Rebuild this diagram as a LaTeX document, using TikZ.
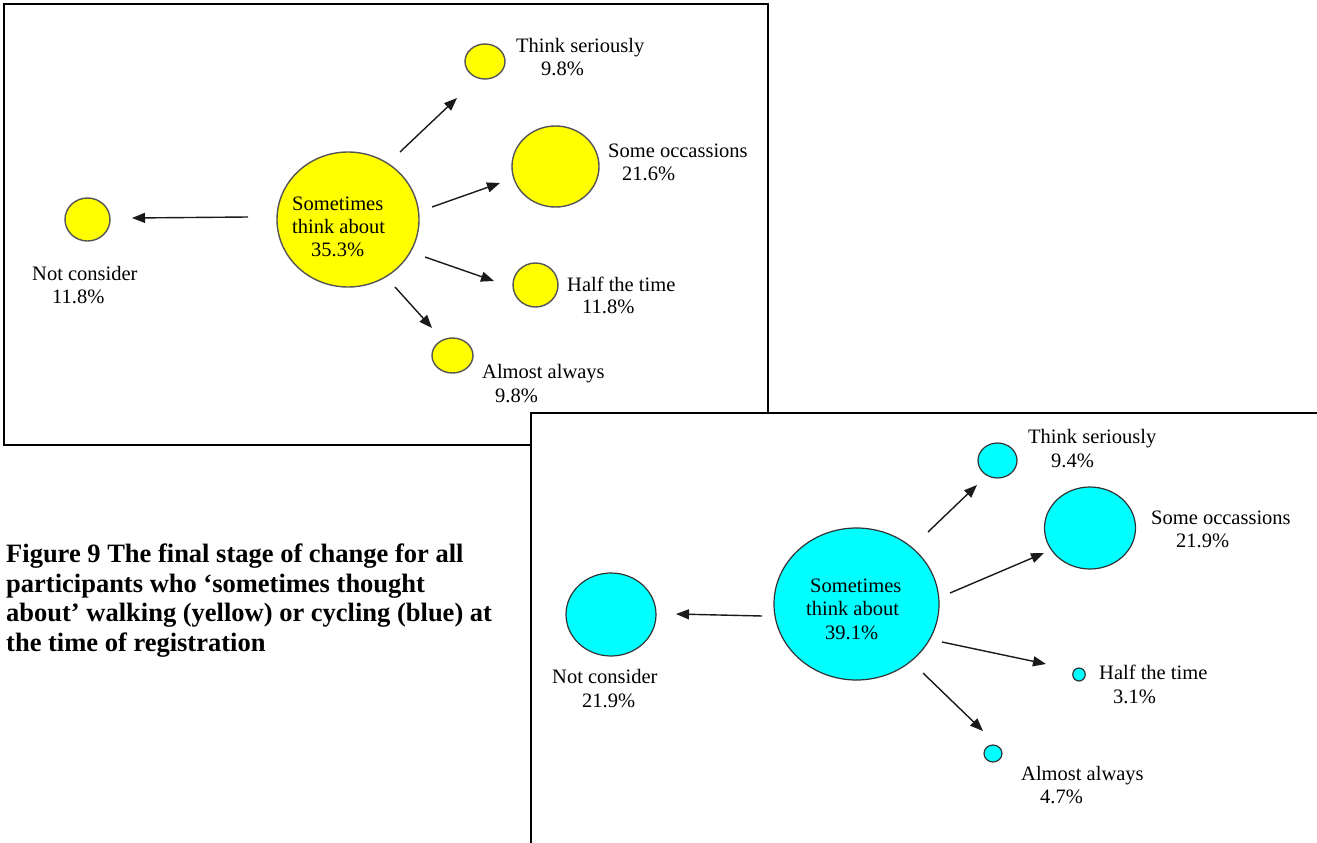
\documentclass[tikz,border=0pt]{standalone}
\usepackage{fontspec}
\setmainfont{Liberation Serif}
\usetikzlibrary{shapes.geometric,arrows.meta,calc}
\definecolor{yfill}{HTML}{FFFF00}
\definecolor{bfill}{HTML}{00FFFF}
\definecolor{ygray}{HTML}{555555}
\definecolor{bgray}{HTML}{333333}
\definecolor{arrgray}{HTML}{1A1A1A}
\newcommand\lblfont{\fontsize{20.5}{23}\selectfont}
\newcommand\capfont{\fontsize{26.5}{29.5}\selectfont\bfseries}
\tikzset{
  ybub/.style={ellipse, draw=ygray, fill=yfill, line width=1.4pt, inner sep=0pt},
  bbub/.style={ellipse, draw=bgray, fill=bfill, line width=1.2pt, inner sep=0pt},
  lbl/.style={anchor=base west, inner sep=0pt, font=\lblfont},
  captext/.style={anchor=base west, inner sep=0pt, font=\capfont},
  arr/.style={-{Triangle[length=13pt,width=10pt]}, line width=1.4pt, draw=arrgray},
  frame/.style={line width=2pt, draw=black}
}
\begin{document}
\begin{tikzpicture}[x=1pt,y=-1pt]
\useasboundingbox (0,0) rectangle (1317,843);
\clip (0,0) rectangle (1317,843);
\fill[white] (0,0) rectangle (1317,843);

% ---------- yellow panel ----------
\draw[frame] (4,4) rectangle (768,445);
\node[ybub, minimum width=142pt, minimum height=135pt] (cY) at (348,219.5) {};
\node[ybub, minimum width=45pt, minimum height=43pt] (ncY) at (87.5,219.5) {};
\node[ybub, minimum width=40pt, minimum height=35pt] (tsY) at (485,61.5) {};
\node[ybub, minimum width=87pt, minimum height=81pt] (soY) at (555.5,166.5) {};
\node[ybub, minimum width=45pt, minimum height=44pt] (htY) at (535.5,285) {};
\node[ybub, minimum width=41pt, minimum height=35pt] (aaY) at (452.5,355.5) {};

\draw[arr] ($(cY)+(-100,-2.5)$) -- ($(ncY)+(44.5,-1.5)$);
\draw[arr] ($(cY)+(52,-67.5)$) -- ($(tsY)+(-28,36.5)$);
\draw[arr] ($(cY)+(84,-12.5)$) -- ($(soY)+(-55.5,16.5)$);
\draw[arr] ($(cY)+(77,37.5)$) -- ($(htY)+(-41.5,-4)$);
\draw[arr] ($(cY)+(47,67.5)$) -- ($(aaY)+(-20.5,-27.5)$);

\node[lbl] (cY1) at (292,210) {Sometimes};
\node[lbl] (cY2) at (292,233) {think about};
\node[lbl] (cY3) at (311,256) {35.3\%};
\node[lbl] (tsY1) at (516,53) {Think seriously};
\node[lbl] (tsY2) at (541,75) {9.8\%};
\begin{scope}
\clip (600,100) rectangle (748,200);
\node[lbl] (soY1) at (608,157) {Some occassions};
\end{scope}
\node[lbl] (soY2) at (622,180) {21.6\%};
\node[lbl] (htY1) at (567,291) {Half the time};
\node[lbl] (htY2) at (582,313) {11.8\%};
\node[lbl] (aaY1) at (482,378) {Almost always};
\node[lbl] (aaY2) at (495,402) {9.8\%};
\node[lbl] (ncY1) at (32,280) {Not consider};
\node[lbl] (ncY2) at (52,303) {11.8\%};

% ---------- caption ----------
\node[captext] (cap1) at (6,562.5) {Figure 9 The final stage of change for all};
\node[captext] (cap2) at (6,592) {participants who ‘sometimes thought};
\node[captext] (cap3) at (6,621.5) {about’ walking (yellow) or cycling (blue) at};
\node[captext] (cap4) at (6,651) {the time of registration};

% ---------- blue panel ----------
\fill[white] (531,413) rectangle (1320,846);
\draw[frame] (531,846) -- (531,413) -- (1320,413);
\node[bbub, minimum width=165pt, minimum height=152pt] (cB) at (856.5,604) {};
\node[bbub, minimum width=90pt, minimum height=83pt] (ncB) at (611,614.5) {};
\node[bbub, minimum width=39pt, minimum height=35pt] (tsB) at (997.5,460.5) {};
\node[bbub, minimum width=91pt, minimum height=82pt] (soB) at (1090,528) {};
\node[bbub, minimum width=12.5pt, minimum height=13pt] (htB) at (1079,674.5) {};
\node[bbub, minimum width=18pt, minimum height=17pt] (aaB) at (993,753.5) {};

\draw[arr] ($(cB)+(-94.5,12)$) -- ($(ncB)+(65,-0.5)$);
\draw[arr] ($(cB)+(71.5,-72)$) -- ($(tsB)+(-20.5,24.5)$);
\draw[arr] ($(cB)+(93.5,-11)$) -- ($(soB)+(-46,25)$);
\draw[arr] ($(cB)+(85.5,38)$) -- ($(htB)+(-33,-10.5)$);
\draw[arr] ($(cB)+(66.5,69)$) -- ($(aaB)+(-10,-22.5)$);

\node[lbl] (cB1) at (810,592) {Sometimes};
\node[lbl] (cB2) at (806,615) {think about};
\node[lbl] (cB3) at (825,639) {39.1\%};
\node[lbl] (tsB1) at (1028,443) {Think seriously};
\node[lbl] (tsB2) at (1051,467) {9.4\%};
\begin{scope}
\clip (1140,480) rectangle (1298,560);
\node[lbl] (soB1) at (1151,524) {Some occassions};
\end{scope}
\node[lbl] (soB2) at (1176,547) {21.9\%};
\node[lbl] (htB1) at (1099,679) {Half the time};
\node[lbl] (htB2) at (1113,703) {3.1\%};
\node[lbl] (aaB1) at (1021,780) {Almost always};
\node[lbl] (aaB2) at (1040,803) {4.7\%};
\node[lbl] (ncB1) at (552,683) {Not consider};
\node[lbl] (ncB2) at (582,707) {21.9\%};
\end{tikzpicture}
\end{document}
